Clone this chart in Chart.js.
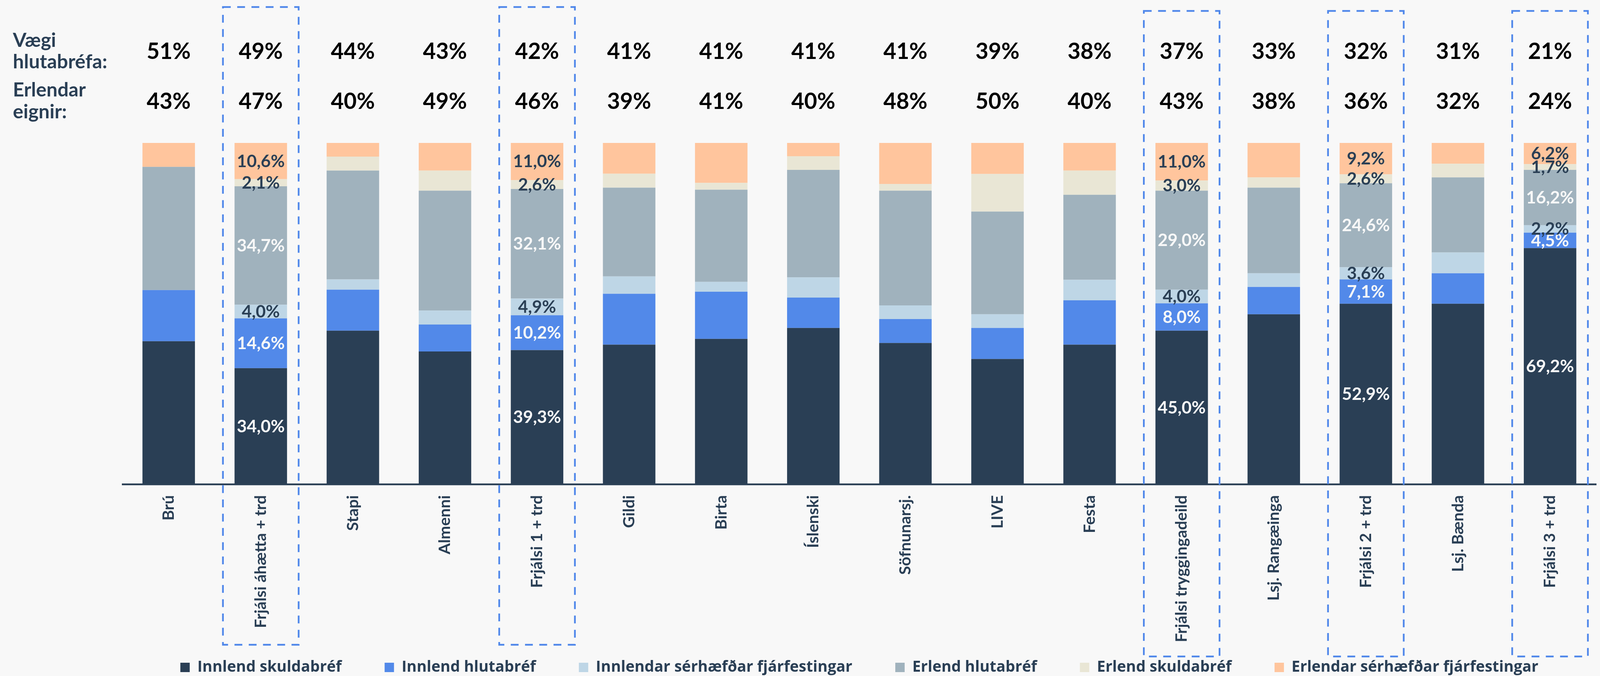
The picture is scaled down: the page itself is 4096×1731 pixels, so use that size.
<!DOCTYPE html>
<html>
<head>
<meta charset="utf-8">
<script src="https://cdn.jsdelivr.net/npm/chart.js@4.4.1/dist/chart.umd.min.js"></script>
<style>
  html, body { margin: 0; padding: 0; background: #f8f8f8; }
  #wrap { width: 4096px; height: 1731px; position: relative; overflow: hidden; }
  canvas { display: block; }
</style>
</head>
<body>
<div id="wrap"><canvas id="c" width="4096" height="1731"></canvas></div>
<script>
// ---------- DATA ----------
const categories = ["Brú", "Frjálsi áhætta + trd", "Stapi", "Almenni", "Frjálsi 1 + trd", "Gildi", "Birta", "Íslenski",
  "Söfnunarsj.", "LIVE", "Festa", "Frjálsi tryggingadeild", "Lsj. Rangæinga", "Frjálsi 2 + trd", "Lsj. Bænda", "Frjálsi 3 + trd"];

const seriesNames = ["Innlend skuldabréf", "Innlend hlutabréf", "Innlendar sérhæfðar fjárfestingar",
  "Erlend hlutabréf", "Erlend skuldabréf", "Erlendar sérhæfðar fjárfestingar"];

const innlendSkuldabref  = [41.9, 34.0, 45.0, 38.9, 39.3, 40.9, 42.6, 45.8, 41.4, 36.7, 40.9, 45.0, 49.8, 52.9, 52.9, 69.2];
const innlendHlutabref   = [15.0, 14.6, 12.0,  7.9, 10.2, 14.9, 13.8,  8.9,  7.0,  9.1, 13.0,  8.0,  8.0,  7.1,  8.9,  4.5];
const innlendarSerhaefdar= [ 0.0,  4.0,  3.0,  4.1,  4.9,  5.1,  2.9,  5.9,  4.0,  4.0,  6.0,  4.0,  4.0,  3.6,  6.1,  2.2];
const erlendHlutabref    = [36.1, 34.7, 31.9, 35.1, 32.1, 26.0, 27.0, 31.5, 33.6, 30.1, 24.9, 29.0, 25.1, 24.6, 22.0, 16.2];
const erlendSkuldabref   = [ 0.0,  2.1,  4.1,  5.9,  2.6,  4.1,  2.0,  4.0,  2.0, 11.0,  7.1,  3.0,  3.0,  2.6,  4.0,  1.7];
const erlendarSerhaefdar = [ 7.0, 10.6,  4.0,  8.1, 11.0,  9.0, 11.7,  3.9, 12.0,  9.1,  8.1, 11.0, 10.1,  9.2,  6.1,  6.2];

const vaegiHlutabrefa = ["51%", "49%", "44%", "43%", "42%", "41%", "41%", "41%", "41%", "39%", "38%", "37%", "33%", "32%", "31%", "21%"];
const erlendarEignir  = ["43%", "47%", "40%", "49%", "46%", "39%", "41%", "40%", "48%", "50%", "40%", "43%", "38%", "36%", "32%", "24%"];

const highlighted = [1, 4, 11, 13, 15];   // Frjálsi funds (labelled + dashed frame)

// ---------- STYLE ----------
const NAVY = "#2a3f55";
const seriesColors = ["#2a3f55", "#5289e9", "#bed6e6", "#a0b2bd", "#e9e6d5", "#ffc59d"];
const labelColors  = ["#f8f8f8", "#f8f8f8", NAVY, "#f8f8f8", NAVY, NAVY];
const FONT = "Lato, 'Open Sans', sans-serif";
const LEGEND_FONT = "'Open Sans', Lato, sans-serif";

Chart.defaults.font.family = FONT;
Chart.defaults.color = NAVY;

const seriesData = [innlendSkuldabref, innlendHlutabref, innlendarSerhaefdar, erlendHlutabref, erlendSkuldabref, erlendarSerhaefdar];

const datasets = seriesNames.map((name, i) => ({
  label: name,
  data: seriesData[i],
  backgroundColor: seriesColors[i],
  borderWidth: 0,
  barPercentage: 0.57,
  categoryPercentage: 1.0
}));

// Header rows, left labels, dashed frames, value labels
const overlayPlugin = {
  id: "overlay",
  afterLayout(chart) {
    // let the long rotated category labels run below the axis box (no clipping)
    chart.scales.x.bottom = chart.height;
  },
  afterDatasetsDraw(chart) {
    const ctx = chart.ctx;
    ctx.save();
    ctx.textAlign = "center";
    ctx.textBaseline = "middle";
    ctx.font = "bold 44px " + FONT;
    chart.data.datasets.forEach((ds, di) => {
      const meta = chart.getDatasetMeta(di);
      highlighted.forEach(j => {
        const v = ds.data[j];
        if (!v) return;
        const el = meta.data[j];
        const y = (el.y + el.base) / 2;
        ctx.fillStyle = labelColors[di];
        ctx.fillText(v.toFixed(1).replace(".", ",") + "%", el.x, y + 1);
      });
    });
    ctx.restore();
  },
  afterDraw(chart) {
    const ctx = chart.ctx;
    const xs = chart.scales.x;
    const catW = xs.width / categories.length;
    ctx.save();
    // header numbers
    ctx.fillStyle = "#000000";
    ctx.textAlign = "center";
    ctx.textBaseline = "alphabetic";
    ctx.font = "bold 57px " + FONT;
    categories.forEach((c, i) => {
      const x = xs.getPixelForValue(i);
      ctx.fillText(vaegiHlutabrefa[i], x, 151);
      ctx.fillText(erlendarEignir[i], x, 279);
    });
    // left labels
    ctx.fillStyle = NAVY;
    ctx.textAlign = "left";
    ctx.font = "bold 50px " + FONT;
    ctx.fillText("Vægi", 33, 120);
    ctx.fillText("hlutabréfa:", 33, 175);
    ctx.fillText("Erlendar", 33, 247);
    ctx.fillText("eignir:", 33, 303);
    // dashed frames
    ctx.strokeStyle = "#4f87ea";
    ctx.lineWidth = 4.4;
    ctx.setLineDash([20, 16.5]);
    highlighted.forEach((idx, k) => {
      const cx = xs.getPixelForValue(idx);
      const hw = 0.411 * catW;
      const top = k < 2 ? 18 : 28;
      const bottom = k < 2 ? 1651 : 1681;
      ctx.strokeRect(cx - hw, top, 2 * hw, bottom - top);
    });
    ctx.restore();
  }
};

const LEGEND_PAD = 110;

new Chart(document.getElementById("c"), {
  type: "bar",
  data: { labels: categories, datasets },
  options: {
    responsive: false,
    animation: false,
    events: [],
    layout: { padding: { left: 314, right: 10, top: 366, bottom: -7.5 } },
    plugins: {
      legend: {
        position: "bottom",
        labels: {
          boxWidth: 24,
          boxHeight: 24,
          padding: LEGEND_PAD,
          color: NAVY,
          font: { size: 39, weight: "bold", family: LEGEND_FONT }
        }
      },
      tooltip: { enabled: false }
    },
    scales: {
      x: {
        stacked: true,
        grid: { display: false, drawTicks: false },
        border: { display: true, color: NAVY, width: 4.4 },
        ticks: {
          autoSkip: false,
          maxRotation: 90,
          minRotation: 90,
          padding: 28,
          color: NAVY,
          font: { size: 41, weight: "bold", family: FONT }
        },
        afterFit(scale) { scale.height = 449.5 - LEGEND_PAD; }
      },
      y: {
        stacked: true,
        display: false,
        min: 0,
        max: 100
      }
    }
  },
  plugins: [overlayPlugin]
});
</script>
</body>
</html>
